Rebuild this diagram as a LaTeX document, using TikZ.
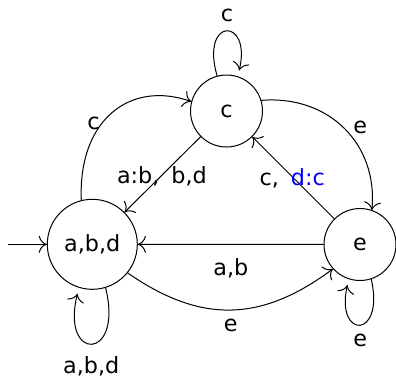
\documentclass[tikz,border=0pt]{standalone}
\usepackage{fontspec}
\setmainfont{DejaVu Sans}
\usetikzlibrary{arrows.meta}
\begin{document}
\begin{tikzpicture}[x=0.4484pt,y=-0.4484pt,line width=0.45pt,
  >={To[scale=1.4]},
  stbase/.style={draw,circle,inner sep=0pt},
  stbig/.style={stbase,minimum size=40.36pt},
  stsmall/.style={stbase,minimum size=32.28pt},
  lbl/.style={anchor=base,inner sep=0pt},
  trans/.style={->},
  loopedge/.style={->,shorten >=2.7pt}]
\useasboundingbox (0,0) rectangle (396,376);
% states
\node[stbig]   (abd) at (92.3,244.3) {a,b,d};
\node[stsmall] (c)   at (226.5,111)  {c};
\node[stsmall] (e)   at (360,244.5)  {e};
\coordinate (start) at (8,244.3);
% edges
\draw[trans] (start) -- (abd);
\draw[trans] (e) -- (abd);
\draw[trans] (c) -- (abd);
\draw[trans] (e) -- (c);
\draw[trans] (abd.104) .. controls (78,120) and (130,80) .. (c.165);
\draw[trans] (c.17) .. controls (330,95) and (378,145) .. (e.71);
\draw[trans] (abd.-39) .. controls (200,323) and (260,323) .. (e.-138);
% loops
\draw[loopedge] (c.105) .. controls (200,16.8) and (252,16.8) .. (c.72);
\draw[loopedge] (abd.-73) .. controls (124,362) and (60,362) .. (abd.-107);
\draw[loopedge] (e.-72) .. controls (385,339.5) and (335,339.5) .. (e.-108);
% labels
\node[lbl] (lc1) at (227,21.7) {c};
\node[lbl] (lc2) at (93.5,129) {c};
\node[lbl,anchor=base west] (lab1) at (116.5,183) {a:b,\hspace{5.4pt}b,d};
\node[lbl,anchor=base west] (lcd) at (259,185) {c,\hspace{5.4pt}\textcolor{blue}{d:c}};
\node[lbl] (lab) at (230.8,275) {a,b};
\node[lbl] (le1) at (230.8,331.7) {e};
\node[lbl] (le2) at (360.3,133.3) {e};
\node[lbl] (le3) at (360.3,346) {e};
\node[lbl] (labd) at (91.3,373.3) {a,b,d};
\end{tikzpicture}
\end{document}
